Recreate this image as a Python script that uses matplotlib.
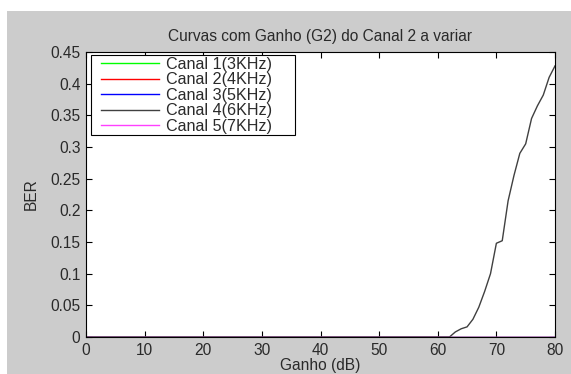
import numpy as np
import matplotlib
matplotlib.use("Agg")
import matplotlib.pyplot as plt
from matplotlib.patches import Rectangle

# Gain axis (dB), 1 dB steps
ganho = list(range(0, 81))

# BER; only one curve leaves zero
ber_zero = [0.0] * 81
ber_canal4 = [0.0] * 63 + [
    0.008, 0.013, 0.016, 0.028, 0.047, 0.072, 0.100, 0.148, 0.152,
    0.215, 0.255, 0.290, 0.305, 0.345, 0.365, 0.382, 0.410, 0.428,
]

labels = ["Canal 1(3KHz)", "Canal 2(4KHz)", "Canal 3(5KHz)",
          "Canal 4(6KHz)", "Canal 5(7KHz)"]
series = [ber_zero, ber_zero, ber_zero, ber_canal4, ber_zero]
colors = ["#00ff00", "#ff0000", "#0000ff", "#404040", "#ff40ff"]

plt.rcParams["font.family"] = ["Liberation Sans", "DejaVu Sans"]
FS = 11.2
TXT = "#2a2a2a"

W, H = 571, 374
fig = plt.figure(figsize=(W / 100, H / 100), dpi=100, facecolor="white")
# grey MATLAB figure background, with a thin white margin top/left
fig.patches.append(Rectangle((7 / W, 0), 1 - 7 / W, 1 - 11 / H,
                             transform=fig.transFigure, facecolor="#cccccc",
                             edgecolor="none", zorder=-10))

AX_L, AX_R, AX_T, AX_B = 86, 555, 52, 337
aw, ah = AX_R - AX_L, AX_B - AX_T
ax = fig.add_axes([AX_L / W, (H - AX_B) / H, aw / W, ah / H])
ax.set_facecolor("white")

for y, c, lab in zip(series, colors, labels):
    ax.plot(ganho, y, color=c, lw=1.0, label=lab)

ax.set_xlim(0, 80)
ax.set_ylim(0, 0.45)
ax.set_xticks(np.arange(0, 81, 10))
ax.set_yticks([0, 0.05, 0.1, 0.15, 0.2, 0.25, 0.3, 0.35, 0.4, 0.45])
ax.set_yticklabels(["0", "0.05", "0.1", "0.15", "0.2", "0.25", "0.3",
                    "0.35", "0.4", "0.45"])
ax.tick_params(direction="in", top=True, right=True, length=4, width=0.8,
               labelsize=FS, colors="black", labelcolor=TXT, pad=4)
for s in ax.spines.values():
    s.set_linewidth(0.8)

ax.set_title("Curvas com Ganho (G2) do Canal 2 a variar", fontsize=FS,
             color=TXT, pad=8)
ax.set_xlabel("Ganho (dB)", fontsize=FS, color=TXT, labelpad=0.5)
ax.set_ylabel("BER", fontsize=FS, color=TXT, labelpad=8)

# MATLAB-style legend box: wider than its contents, so draw the frame apart
ax.add_patch(Rectangle(((91 - AX_L) / aw, (AX_B - 135) / ah),
                       (295 - 91) / aw, (135 - 55) / ah,
                       transform=ax.transAxes, facecolor="white",
                       edgecolor="black", lw=0.8, zorder=5))
leg = ax.legend(loc="upper left",
                bbox_to_anchor=((101 - AX_L) / aw, (AX_B - 57) / ah),
                fontsize=11.6, handlelength=3.6, handletextpad=0.45,
                labelspacing=0.03, borderpad=0.0, borderaxespad=0.0,
                frameon=False)
leg.set_zorder(6)
for t in leg.get_texts():
    t.set_color(TXT)

fig.savefig("out.png", dpi=100, facecolor=fig.get_facecolor())
